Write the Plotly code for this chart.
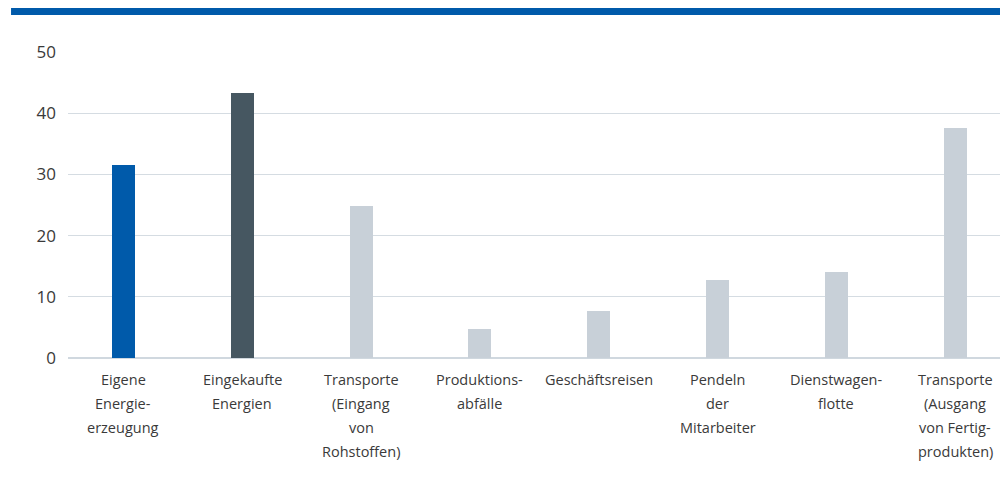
import plotly.graph_objects as go

categories = [
    "Eigene<br>Energie-<br>erzeugung",
    "Eingekaufte<br>Energien",
    "Transporte<br>(Eingang<br>von<br>Rohstoffen)",
    "Produktions-<br>abfälle",
    "Geschäftsreisen",
    "Pendeln<br>der<br>Mitarbeiter",
    "Dienstwagen-<br>flotte",
    "Transporte<br>(Ausgang<br>von Fertig-<br>produkten)",
]
values = [31.5, 43.3, 24.8, 4.7, 7.7, 12.7, 14.0, 37.6]
colors = ["#005AAA", "#465761"] + ["#C8D0D8"] * 6
y_ticks = [0, 10, 20, 30, 40, 50]

xs = list(range(len(categories)))

fig = go.Figure()
fig.add_trace(go.Bar(x=xs, y=values, marker=dict(color=colors, line=dict(width=0)),
                     width=0.194, hoverinfo="skip"))

font_family = "Open Sans, Noto Sans, sans-serif"
for i, lab in enumerate(categories):
    for k, line in enumerate(lab.split("<br>")):
        fig.add_annotation(x=i, y=0, xref="x", yref="paper", text=line,
                           showarrow=False, yanchor="middle", xanchor="center",
                           yshift=-21 - 24 * k,
                           font=dict(family=font_family, size=14.5, color="#3a3a3a"))

fig.add_shape(type="rect", xref="paper", yref="paper",
              x0=-0.0606, x1=1.01, y0=1.1209, y1=1.1438,
              fillcolor="#005AAA", line=dict(width=0), layer="above")

fig.update_layout(
    width=1008, height=467,
    margin=dict(l=60, r=8, t=44, b=117),
    plot_bgcolor="white", paper_bgcolor="white",
    showlegend=False, bargap=0,
    font=dict(family=font_family, color="#3a3a3a"),
)
fig.update_xaxes(range=[-0.467, 7.445], showticklabels=False, showgrid=False,
                 zeroline=False, showline=False, ticks="")
fig.update_yaxes(range=[0, 50], tickvals=y_ticks, showgrid=True, gridcolor="#D5DCE2",
                 gridwidth=1.3, zeroline=True, zerolinecolor="#D0D8DF", zerolinewidth=2,
                 showline=False, ticks="", ticklabelstandoff=11,
                 tickfont=dict(size=17, color="#3a3a3a", family=font_family))

fig.write_html("out.html")
